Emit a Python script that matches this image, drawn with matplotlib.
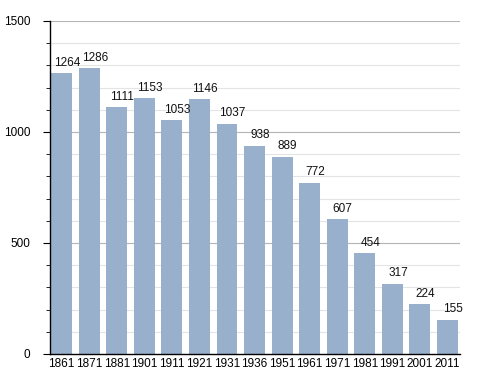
import matplotlib
matplotlib.use("Agg")
import matplotlib.pyplot as plt
import numpy as np

plt.rcParams['font.family'] = ['Liberation Sans', 'DejaVu Sans']

# Population data
years = ["1861", "1871", "1881", "1901", "1911", "1921", "1931", "1936",
         "1951", "1961", "1971", "1981", "1991", "2001", "2011"]
population = [1264, 1286, 1111, 1153, 1053, 1146, 1037, 938,
              889, 772, 607, 454, 317, 224, 155]

fig = plt.figure(figsize=(4.88, 3.73), dpi=100)
ax = fig.add_axes([0.1025, 0.051, 0.84, 0.893])

x = np.arange(len(years))

# grid lines: minor every 100, major every 500
for y in range(100, 1501, 100):
    if y % 500 == 0:
        ax.axhline(y, color="#b4b4b4", lw=0.8, zorder=0)
    else:
        ax.axhline(y, color="#e4e4e4", lw=0.8, zorder=0)

bars = ax.bar(x, population, width=0.76, color="#98b0cc", zorder=2)

for xi, val in zip(x, population):
    ax.text(xi + 0.2, val + 20, str(val), ha="center", va="bottom", fontsize=8.5,
            color="#111111")

ax.set_xlim(-0.42, len(years) - 0.55)
ax.set_ylim(0, 1500)
ax.set_xticks(x)
ax.set_xticklabels(years, fontsize=8.5)
ax.set_yticks([0, 500, 1000, 1500])
ax.set_yticks(np.arange(0, 1501, 100), minor=True)
ax.tick_params(axis="y", which="major", length=5, labelsize=8.5, pad=9)
ax.tick_params(axis="y", which="minor", length=3)
ax.tick_params(axis="x", length=0, pad=3)

for side in ["top", "right"]:
    ax.spines[side].set_visible(False)
ax.spines["left"].set_linewidth(1.0)
ax.spines["bottom"].set_linewidth(1.0)

fig.savefig("out.png", dpi=100)
